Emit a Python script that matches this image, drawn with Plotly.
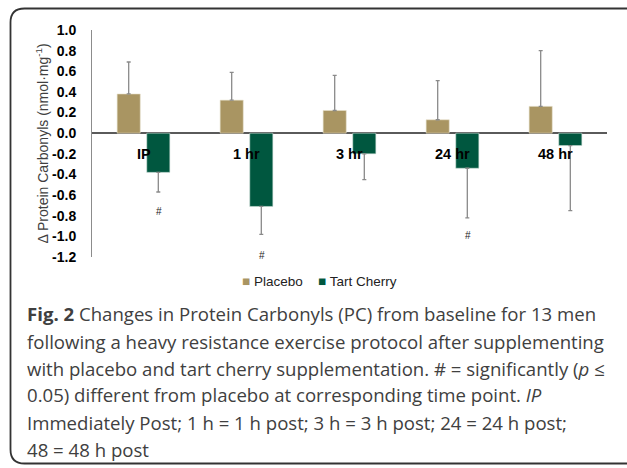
import plotly.graph_objects as go

# ---------------- data ----------------
categories = ["IP", "1 hr", "3 hr", "24 hr", "48 hr"]
placebo = [0.38, 0.32, 0.22, 0.13, 0.26]
placebo_err = [0.31, 0.27, 0.34, 0.38, 0.54]
tart_cherry = [-0.38, -0.71, -0.20, -0.34, -0.12]
tart_cherry_err = [0.19, 0.27, 0.25, 0.48, 0.63]
sig_marker_y = [-0.76, -1.19, None, -0.99, None]  # '#' positions (None = not significant)
y_tick_vals = [1.0, 0.8, 0.6, 0.4, 0.2, 0.0, -0.2, -0.4, -0.6, -0.8, -1.0, -1.2]
y_tick_text = ["1.0", "0.8", "0.6", "0.4", "0.2", "0.0", "-0.2", "-0.4", "-0.6", "-0.8", "-1.0", "-1.2"]
category_label_y = -0.2
series_names = ["Placebo", "Tart Cherry"]

caption_lines = [
    "<b>Fig. 2</b> Changes in Protein Carbonyls (PC) from baseline for 13 men",
    "following a heavy resistance exercise protocol after supplementing",
    "with placebo and tart cherry supplementation. # = significantly (<i>p</i> ≤",
    "0.05) different from placebo at corresponding time point. <i>IP</i>",
    "Immediately Post; 1 h = 1 h post; 3 h = 3 h post; 24 = 24 h post;",
    "48 = 48 h post",
]

PLACEBO_COLOR = "#A99562"
TART_COLOR = "#00573F"
ERR_COLOR = "#8A8A8A"

W, H = 627, 468
ML, MR, MT, MB = 92, 20, 30, 211
PW, PH = W - ML - MR, H - MT - MB


def px_x(px):
    return (px - ML) / PW


def px_y(py):
    return (H - MB - py) / PH


fig = go.Figure()
fig.add_trace(go.Bar(
    x=categories, y=placebo, name=series_names[0],
    marker=dict(color=PLACEBO_COLOR, line=dict(color="#E8E0CC", width=0.6)),
    error_y=dict(type="data", symmetric=False, array=placebo_err,
                 arrayminus=[0] * len(placebo_err), color=ERR_COLOR,
                 thickness=1.3, width=2),
    showlegend=False,
))
fig.add_trace(go.Bar(
    x=categories, y=tart_cherry, name=series_names[1],
    marker=dict(color=TART_COLOR, line=dict(color="#D0E0DA", width=0.6)),
    error_y=dict(type="data", symmetric=False, array=[0] * len(tart_cherry_err),
                 arrayminus=tart_cherry_err, color=ERR_COLOR,
                 thickness=1.3, width=2),
    showlegend=False,
))

annotations = []
# category labels near zero line
for c in categories:
    annotations.append(dict(x=c, y=category_label_y, xref="x", yref="y", text=f"<b>{c}</b>",
                            showarrow=False, font=dict(family="Liberation Sans", size=14.5, color="#000"),
                            xanchor="center", yanchor="middle"))
# significance markers
for c, sy in zip(categories, sig_marker_y):
    if sy is not None:
        annotations.append(dict(x=c, y=sy, xref="x", yref="y", text="#", showarrow=False,
                                xshift=15, font=dict(family="Liberation Sans", size=10, color="#222"),
                                xanchor="center", yanchor="middle"))
# y-axis title
annotations.append(dict(x=px_x(42), y=0.5, xref="paper", yref="paper",
                        text="Δ Protein Carbonyls (nmol·mg<sup>-1</sup>)", textangle=-90,
                        showarrow=False, font=dict(family="Liberation Sans", size=14, color="#404040"),
                        xanchor="center", yanchor="middle"))
# legend (square swatch + label)
legend_x = [240, 316]
for nm, col, lx in zip(series_names, [PLACEBO_COLOR, TART_COLOR], legend_x):
    annotations.append(dict(x=px_x(lx), y=px_y(281), xref="paper", yref="paper",
                            text=f"<span style='color:{col}'>■</span> {nm}", showarrow=False,
                            xanchor="left", yanchor="middle",
                            font=dict(family="Liberation Sans", size=13.5, color="#222")))
# caption
cap_y = [313, 341, 368, 395, 422, 449]
for line, cy in zip(caption_lines, cap_y):
    annotations.append(dict(x=px_x(25), y=px_y(cy), xref="paper", yref="paper", text=line,
                            showarrow=False, align="left", xanchor="left", yanchor="middle",
                            font=dict(family="Open Sans", size=18.6, color="#404040")))

# rounded frame
x0, y0, x1, y1, r = px_x(10.5), px_y(8.5), px_x(640), px_y(463.5), 14
rx, ry = r / PW, r / PH
frame_path = (f"M {x0+rx},{y0} L {x1},{y0} M {x0+rx},{y0} Q {x0},{y0} {x0},{y0-ry} "
              f"L {x0},{y1+ry} Q {x0},{y1} {x0+rx},{y1} L {x1},{y1}")

fig.update_layout(
    width=W, height=H,
    margin=dict(l=ML, r=MR, t=MT, b=MB),
    paper_bgcolor="white", plot_bgcolor="white",
    barmode="group", bargap=0.425, bargroupgap=0.22,
    showlegend=False,
    xaxis=dict(type="category", showticklabels=False, showline=False, showgrid=False,
               zeroline=False, ticks=""),
    yaxis=dict(range=[-1.2, 1.0], tickvals=y_tick_vals, ticktext=y_tick_text,
               showgrid=False, showline=True, linecolor="#8C8C8C", linewidth=1,
               zeroline=True, zerolinecolor="#5A5A5A", zerolinewidth=1.5,
               ticks="", ticklabelstandoff=12,
               tickfont=dict(family="Liberation Sans", size=14, color="#000", weight="bold")),
    annotations=annotations,
    shapes=[dict(type="path", path=frame_path, xref="paper", yref="paper",
                 line=dict(color="#333333", width=1.8), layer="above")],
)

fig.write_html("out.html", config={"displayModeBar": False},
               post_script="document.body.style.margin='0';document.body.style.overflow='hidden';")
